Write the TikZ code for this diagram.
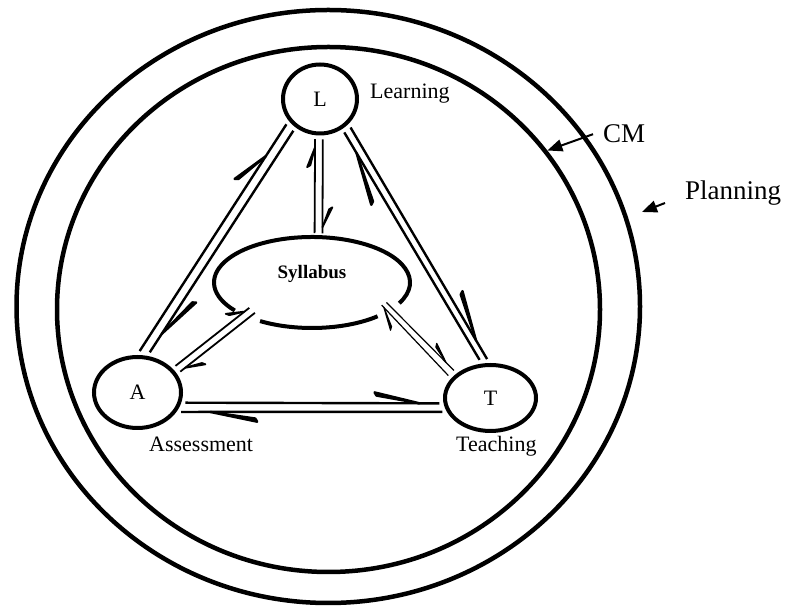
\documentclass[tikz,border=0pt]{standalone}
\usepackage{fontspec}
\setmainfont{Liberation Serif}
\usetikzlibrary{shapes.geometric,decorations.markings,arrows.meta,calc}
\begin{document}
\begin{tikzpicture}[x=1pt,y=1pt,
  ring/.style={ellipse, draw, line width=4.5pt, inner sep=0pt},
  vert/.style={ellipse, draw, line width=4pt, inner sep=0pt, outer sep=6pt, font=\fontsize{22}{26}\selectfont},
  lbl/.style={inner sep=0pt, anchor=base west, font=\fontsize{22}{26}\selectfont},
  big/.style={inner sep=0pt, anchor=base west, font=\fontsize{27}{32}\selectfont},
  heavy/.style={line width=2.4pt},
  medium/.style={line width=1.8pt},
  light/.style={line width=1.2pt},
  harp/.style n args={3}{postaction={decorate,decoration={markings,
     mark=at position -#1 with {\filldraw[line join=round] (0pt,0pt) -- (-#2,#3+0.8pt) -- (-#2+2pt,#3-2.4pt) -- cycle;}}}},
  ptr/.style={line width=2pt, -{Triangle[length=15pt,width=12pt]}},
]
\useasboundingbox (0,0) rectangle (790,613);
% planning and CM rings
\node[ring, minimum width=623.5pt, minimum height=593pt] (plan) at (328.25,306.5) {};
\node[ring, minimum width=543pt, minimum height=525pt] (cm) at (328.5,303.5) {};
% vertices
\node[vert, minimum width=74pt, minimum height=69pt] (L) at (320,514) {L};
\node[vert, minimum width=87pt, minimum height=71pt] (A) at (137.5,220.5) {A};
\node[vert, minimum width=91pt, minimum height=66pt] (T) at (490.5,215) {T};
\node[ellipse, inner sep=0pt, outer sep=2pt, minimum width=200pt, minimum height=95pt,
      text height=13pt, text depth=20pt, font=\bfseries\fontsize{19}{23}\selectfont] (S) at (312,330.5) {Syllabus};
\draw[line width=4pt] (S.center) ++(333:98 and 45.5) arc[start angle=333, end angle=578, x radius=98, y radius=45.5];
\draw[line width=4pt] (S.center) ++(238:98 and 45.5) arc[start angle=238, end angle=312, x radius=98, y radius=45.5];
% labels
\node[lbl] (lLearn) at (370,514) {Learning};
\node[lbl] (lAss) at (149,161) {Assessment};
\node[lbl] (lTeach) at (456,161) {Teaching};
\node[big] (lCM) at (603,470) {CM};
\node[big] (lPlan) at (685,413) {Planning};
% connectors L-A
\draw[heavy, harp={38pt}{36pt}{13pt}] (A.87) -- (L.217);
\draw[heavy, harp={22pt}{45pt}{11pt}] (L.230) -- (A.73);
% L-T
\draw[heavy, harp={24pt}{52pt}{13pt}] (T.106) -- (L.306);
\draw[heavy, harp={22pt}{49pt}{12.5pt}] (L.317) -- (T.95);
% L-S
\draw[medium, harp={8pt}{20pt}{7pt}] (S.87) -- (L.263);
\draw[medium, harp={6pt}{20pt}{9pt}] (L.274) -- (S.78);
% S-A
\draw[medium, harp={6pt}{16pt}{9pt}] (A.35) -- ($(S.center)!0.80!(S.202)$);
\draw[medium, harp={6pt}{18pt}{9pt}] ($(S.center)!0.83!(S.208)$) -- (A.26);
% S-T
\draw[light, harp={11pt}{20pt}{6pt}] ($(S.center)!0.834!(S.345)$) -- (T.143);
\draw[light, harp={3pt}{21pt}{10pt}] (T.152) -- ($(S.center)!0.822!(S.342)$);
% A-T
\draw[heavy, harp={20pt}{45pt}{10pt}] (A.348) -- (T.186);
\draw[heavy, harp={29pt}{47pt}{9pt}] (T.196) -- (A.336);
% pointers
\coordinate (ptip) at (642,401);
\draw[ptr] ([xshift=-10pt]lCM.west) -- (cm.36);
\draw[ptr] ([shift={(-20pt,-3pt)}]lPlan.base west) -- (ptip);
\end{tikzpicture}
\end{document}
